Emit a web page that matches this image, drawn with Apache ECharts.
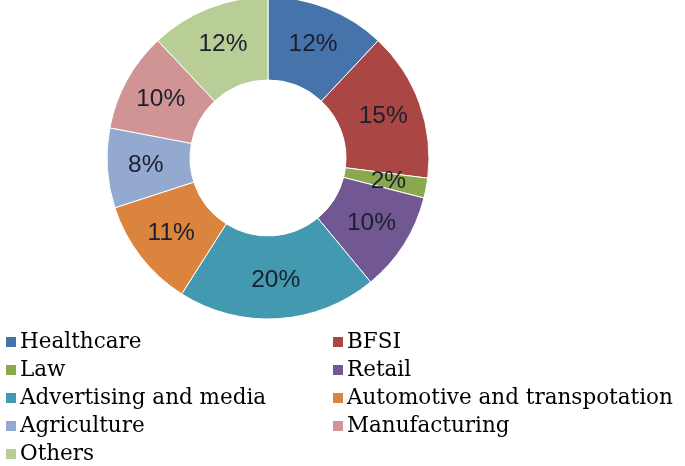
<!DOCTYPE html>
<html>
<head>
<meta charset="utf-8">
<script src="https://cdn.jsdelivr.net/npm/echarts@6/dist/echarts.min.js"></script>
<style>
html,body{margin:0;padding:0;background:#fff;}
#c{width:685px;height:466px;}
</style>
</head>
<body>
<div id="c"></div>
<script>
var categories = ['Healthcare','BFSI','Law','Retail','Advertising and media','Automotive and transpotation','Agriculture','Manufacturing','Others'];
var values = [12, 15, 2, 10, 20, 11, 8, 10, 12];
var colors = ['#4573AA','#AA4644','#8AA84E','#715892','#4299B0','#DB843E','#93A9D0','#D09494','#B9CE96'];
var leftLegend = ['Healthcare','Law','Advertising and media','Agriculture','Others'];
var rightLegend = ['BFSI','Retail','Automotive and transpotation','Manufacturing'];

var chart = echarts.init(document.getElementById('c'), null, {renderer:'canvas'});
var legendBase = {
  orient: 'vertical',
  top: 331,
  height: 160,
  padding: 0,
  itemWidth: 12,
  itemHeight: 12,
  itemGap: 6,
  icon: 'rect',
  selectedMode: false,
  textStyle: {fontFamily: 'DejaVu Serif', fontSize: 21.5, color: '#000', padding: [0,0,0,-2]}
};
chart.setOption({
  animation: false,
  color: colors,
  legend: [
    Object.assign({}, legendBase, {left: 4, data: leftLegend}),
    Object.assign({}, legendBase, {left: 331, data: rightLegend})
  ],
  series: [{
    type: 'pie',
    center: [268, 158],
    radius: [78, 161],
    startAngle: 90,
    clockwise: true,
    itemStyle: {borderColor: '#fff', borderWidth: 1},
    label: {
      show: true,
      position: 'inside',
      formatter: '{c}%',
      fontFamily: 'Liberation Sans',
      fontSize: 24.5,
      color: '#1b1f2e'
    },
    labelLine: {show: false},
    emphasis: {disabled: true},
    data: categories.map(function(n,i){return {name:n, value:values[i]};})
  }]
});
</script>
</body>
</html>
